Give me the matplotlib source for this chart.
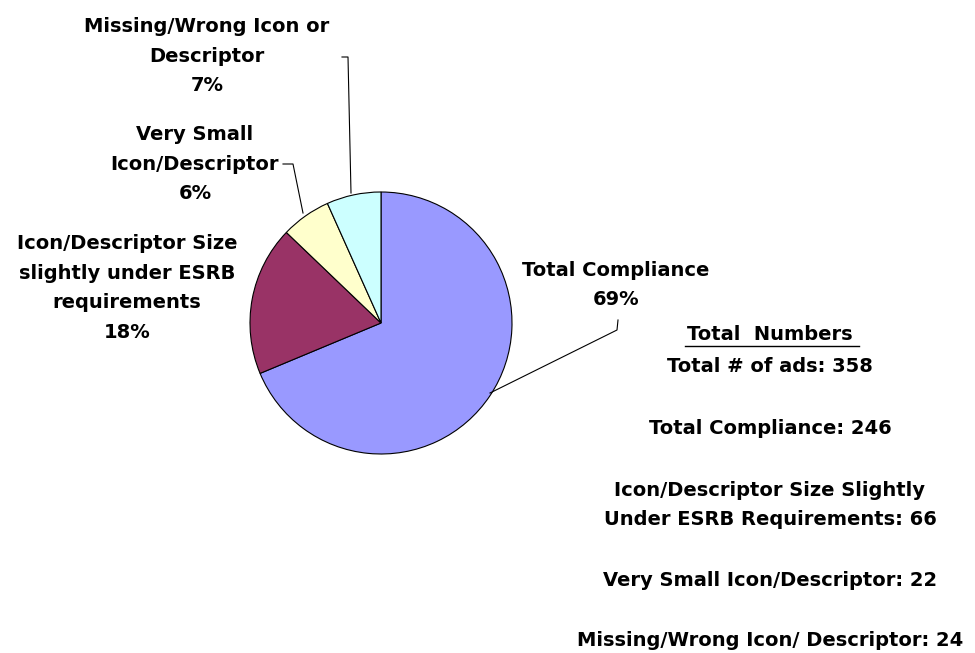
import matplotlib.pyplot as plt

# data
categories = ["Total Compliance",
              "Icon/Descriptor Size\nslightly under ESRB\nrequirements",
              "Very Small\nIcon/Descriptor",
              "Missing/Wrong Icon or\nDescriptor"]
counts = [246, 66, 22, 24]
colors = ["#9999FF", "#993366", "#FFFFCC", "#CCFFFF"]
total_ads = 358
summary = ["Total # of ads: %d" % total_ads,
           "Total Compliance: %d" % counts[0],
           "Icon/Descriptor Size Slightly\nUnder ESRB Requirements: %d" % counts[1],
           "Very Small Icon/Descriptor: %d" % counts[2],
           "Missing/Wrong Icon/ Descriptor: %d" % counts[3]]

W, H = 975, 653
fig = plt.figure(figsize=(9.75, 6.53), dpi=100)
ax = fig.add_axes([0, 0, 1, 1])
ax.set_xlim(0, W)
ax.set_ylim(0, H)
ax.set_aspect("equal")
ax.axis("off")

def Y(y):
    return H - y

ax.pie(counts, colors=colors, startangle=90, counterclock=False,
       center=(381, Y(323)), radius=131,
       wedgeprops=dict(edgecolor="black", linewidth=0.8))
ax.set_xlim(0, W)
ax.set_ylim(0, H)

fnt = dict(fontsize=14, fontweight="bold", family="DejaVu Sans",
           ha="center", va="center", linespacing=1.72)
pct = [round(c / total_ads * 100) for c in counts]

# slice labels
pos = [(616, 285), (127, 288), (195, 164), (207, 56)]
for lab, p, (x, y) in zip(categories, pct, pos):
    ax.text(x, Y(y), "%s\n%d%%" % (lab, p), **fnt)

# leader lines
ax.plot([618, 617, 490], [Y(320), Y(330), Y(393)], color="black", lw=0.8)
ax.plot([283, 293, 303], [Y(164), Y(164), Y(213)], color="black", lw=0.8)
ax.plot([342, 348, 351], [Y(57), Y(57), Y(193)], color="black", lw=0.8)

# summary block
ax.text(770, Y(334), "Total  Numbers", **fnt)
ax.plot([685, 859], [Y(346), Y(346)], color="black", lw=1)
ys = [366, 428, 505, 581, 641]
for s, y in zip(summary, ys):
    ax.text(770, Y(y), s, **fnt)

fig.savefig("out.png", dpi=100)
